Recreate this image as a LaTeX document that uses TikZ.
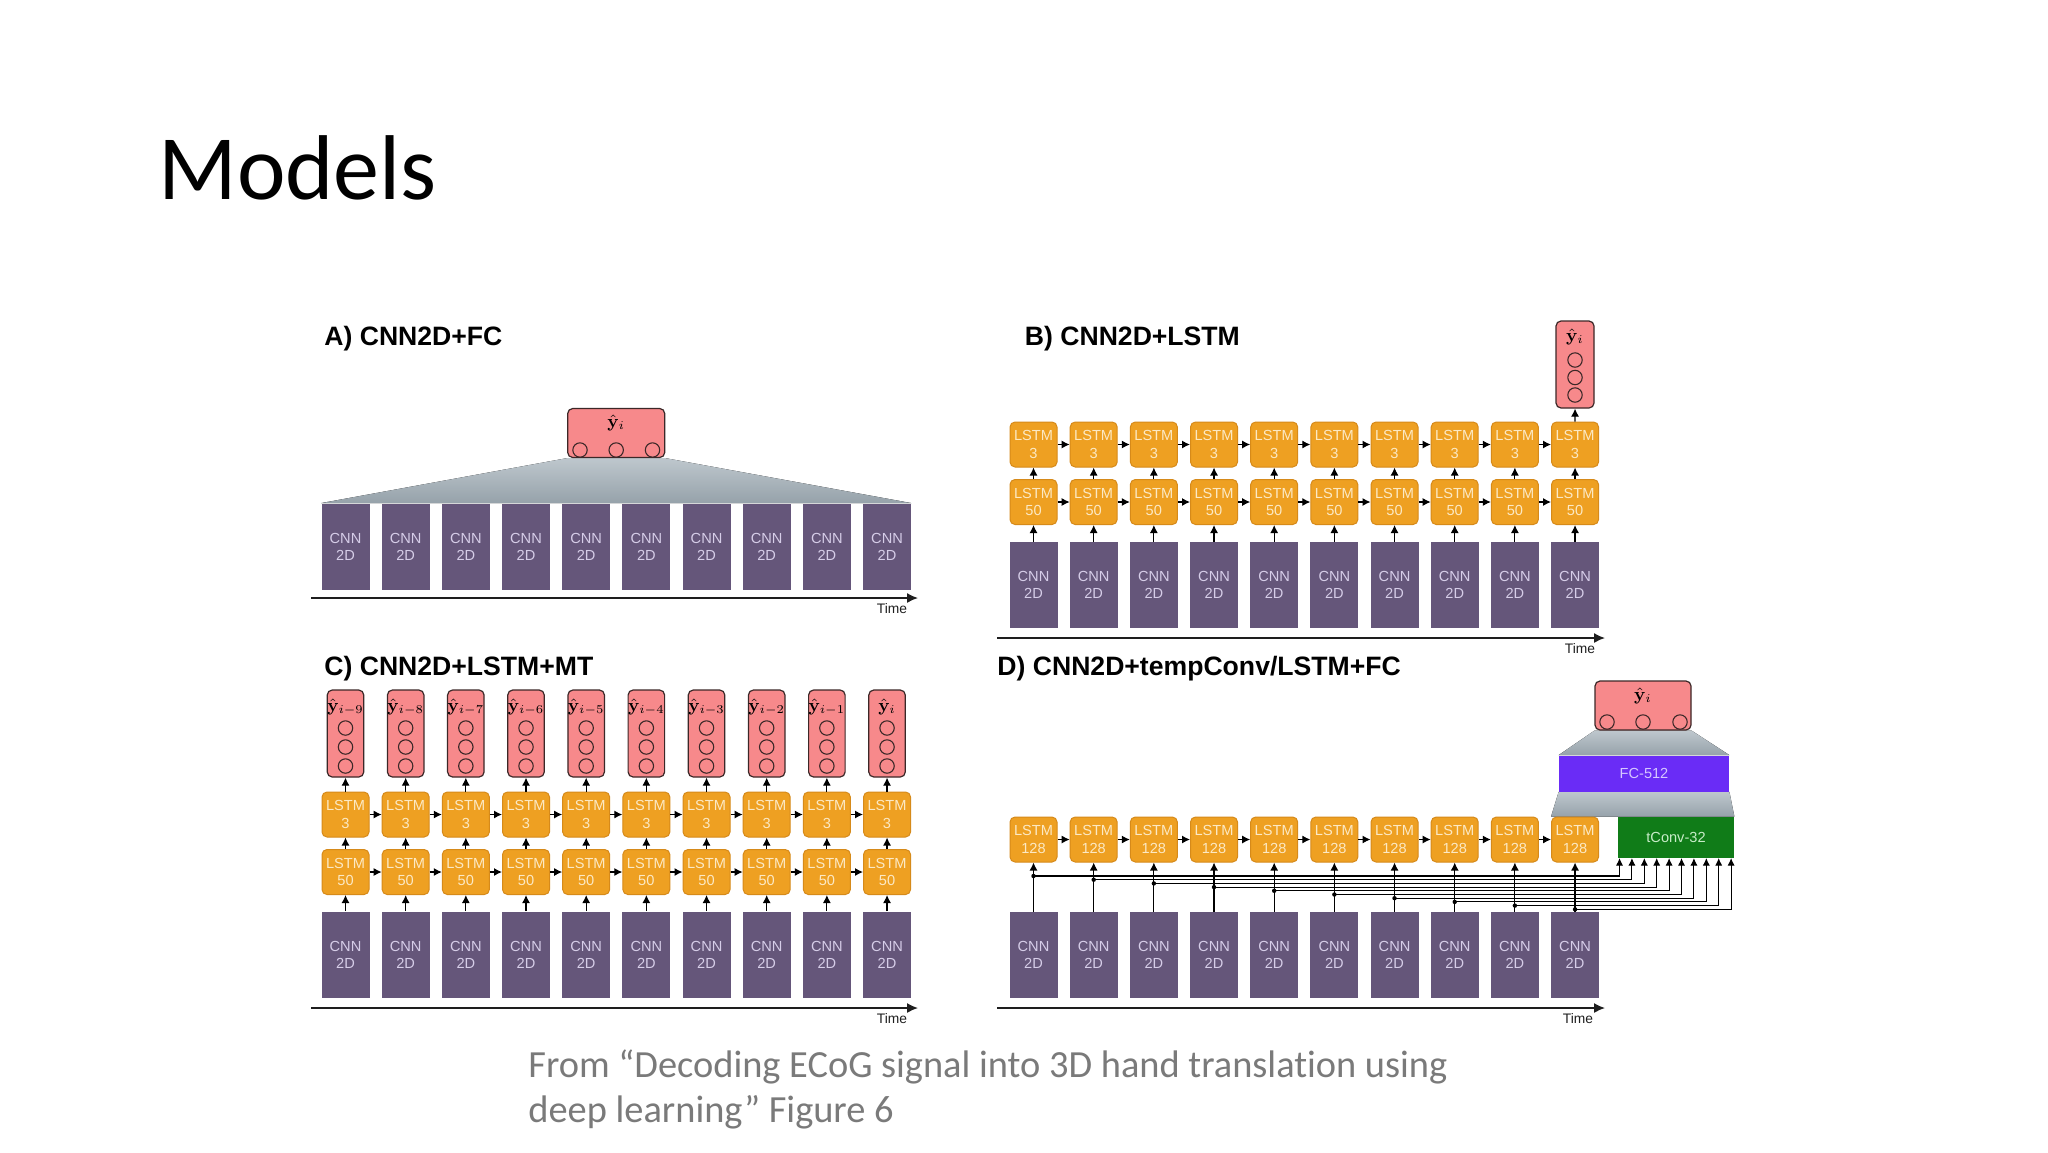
\documentclass[tikz,border=0pt]{standalone}
\usepackage[no-math]{fontspec}
\setmainfont{Liberation Sans}
\newfontfamily\calib[Ligatures=NoCommon]{Carlito}
\usetikzlibrary{arrows.meta}
\pgfdeclarelayer{bg}
\pgfsetlayers{bg,main}
\definecolor{cnnfill}{RGB}{101,86,122}
\definecolor{cnntext}{RGB}{214,205,232}
\definecolor{lstmfill}{RGB}{238,160,34}
\definecolor{lstmdraw}{RGB}{214,138,26}
\definecolor{lstmtext}{RGB}{252,233,196}
\definecolor{outfill}{RGB}{247,137,139}
\definecolor{outdraw}{RGB}{60,40,40}
\definecolor{fantop}{RGB}{190,199,205}
\definecolor{fanbot}{RGB}{150,162,170}
\definecolor{fcfill}{RGB}{106,44,246}
\definecolor{fctext}{RGB}{214,200,255}
\definecolor{tcfill}{RGB}{16,124,24}
\definecolor{tctext}{RGB}{200,236,200}
\definecolor{captiongray}{RGB}{122,122,122}
\definecolor{axisblack}{RGB}{30,30,30}
\begin{document}
\begin{tikzpicture}[x=0.5pt,y=-0.5pt,
  cnn/.style={rectangle, fill=cnnfill, minimum width=24pt, minimum height=43pt, inner sep=0pt, text=cnntext, font=\fontsize{7.3}{8.6}\selectfont, align=center},
  lstm/.style={rectangle, rounded corners=2.5pt, fill=lstmfill, draw=lstmdraw, line width=0.5pt, minimum width=23.5pt, minimum height=22.5pt, inner sep=0pt, text=lstmtext, font=\fontsize{7.3}{8.6}\selectfont, align=center},
  outbox/.style={rectangle, rounded corners=2.5pt, fill=outfill, draw=outdraw, line width=0.6pt, inner sep=0pt},
  neuron/.style={circle, draw=outdraw, line width=0.55pt, minimum size=7.2pt, inner sep=0pt},
  lab/.style={inner sep=0pt, font=\fontsize{9}{10}\selectfont},
  arr/.style={-{Latex[length=4pt,width=4pt]}, line width=0.6pt, draw=black},
  wire/.style={-{Latex[length=3.8pt,width=3.6pt]}, line width=0.55pt, draw=black},
  timeax/.style={-{Latex[length=5.5pt,width=5pt]}, line width=0.75pt, draw=axisblack},
  panel/.style={font=\bfseries\fontsize{13.3}{16}\selectfont, anchor=base west, inner sep=0pt},
  timelab/.style={font=\fontsize{6.9}{8}\selectfont, text=axisblack, inner sep=0pt},
  fan/.style={top color=fantop, bottom color=fanbot, draw=none},
  slidetitle/.style={font=\calib\fontsize{46}{50}\selectfont, anchor=base west, inner sep=0pt},
  caption/.style={font=\calib\fontsize{19.2}{22.5}\selectfont, text=captiongray, anchor=base west, inner sep=0pt},
  fcbox/.style={rectangle, fill=fcfill, minimum width=85pt, minimum height=18pt, inner sep=0pt, text=fctext, font=\fontsize{7.3}{8.6}\selectfont},
  tcbox/.style={rectangle, fill=tcfill, minimum width=58pt, minimum height=20.5pt, inner sep=0pt, text=tctext, font=\fontsize{7.3}{8.6}\selectfont}
]
\useasboundingbox (0,0) rectangle (2048,1152);
\begin{pgfonlayer}{bg}
\fill[white] (0,0) rectangle (2048,1152);
\end{pgfonlayer}

% slide title
\node[slidetitle] (title) at (158,199) {Models};

% ---------------- Panel A ----------------
\node[panel] (tA) at (324,345) {A) CNN2D+FC};
\foreach \k in {1,...,10}{
  \pgfmathsetmacro{\cx}{345.5+60.17*(\k-1)}
  \node[cnn] (A\k) at (\cx,546.5) {CNN\\2D};
}
\node[outbox, minimum width=48.5pt, minimum height=24.5pt] (oA) at (616.2,433) {};
\node[lab] (oAl) at (616.2,423) {$\hat{\mathbf{y}}_i$};
\foreach \xx [count=\n] in {580,616.2,652.5}
  \node[neuron] (oAn\n) at (\xx,450) {};
\begin{pgfonlayer}{bg}
\fill[fan] (A1.north west) -- (oA.south west) -- (oA.south east) -- (A10.north east) -- cycle;
\end{pgfonlayer}
\coordinate (TA0) at (311,598);
\coordinate (TA1) at (918,598);
\draw[timeax] (TA0) -- (TA1);
\node[timelab] (TAl) at (892,608.5) {Time};

% ---------------- Panel B ----------------
\node[panel] (tB) at (1024.5,345) {B) CNN2D+LSTM};
\foreach \k in {1,...,10}{
  \pgfmathsetmacro{\cx}{1033.5+60.17*(\k-1)}
  \node[cnn] (B\k) at (\cx,585) {CNN\\2D};
  \node[lstm] (Bm\k) at (\cx,502) {LSTM\\50};
  \node[lstm] (Bt\k) at (\cx,444.5) {LSTM\\3};
  \draw[arr] (B\k) -- (Bm\k);
  \draw[arr] (Bm\k) -- (Bt\k);
}
\foreach \k [evaluate=\k as \j using int(\k+1)] in {1,...,9}{
  \draw[arr] (Bm\k) -- (Bm\j);
  \draw[arr] (Bt\k) -- (Bt\j);
}
\node[outbox, minimum width=19pt, minimum height=43.5pt] (oB) at (1575,364.5) {};
\node[lab] (oBl) at (1575,337) {$\hat{\mathbf{y}}_i$};
\foreach \yy [count=\n] in {360,377.5,395}
  \node[neuron] (oBn\n) at (1575,\yy) {};
\draw[arr] (Bt10) -- (oB);
\coordinate (TB0) at (997,638);
\coordinate (TB1) at (1605,638);
\draw[timeax] (TB0) -- (TB1);
\node[timelab] (TBl) at (1580,648.5) {Time};

% ---------------- Panel C ----------------
\node[panel] (tC) at (324,675) {C) CNN2D+LSTM+MT};
\foreach \k in {1,...,10}{
  \pgfmathsetmacro{\cx}{345.5+60.17*(\k-1)}
  \pgfmathtruncatemacro{\m}{10-\k}
  \node[cnn] (C\k) at (\cx,954.5) {CNN\\2D};
  \node[lstm] (Cm\k) at (\cx,872) {LSTM\\50};
  \node[lstm] (Ct\k) at (\cx,814.5) {LSTM\\3};
  \node[outbox, minimum width=18.25pt, minimum height=43.5pt] (oC\k) at (\cx,733.5) {};
  \node[lab] (oCl\k) at (\cx,707) {\ifnum\m>0 $\hat{\mathbf{y}}_{i-\m}$\else $\hat{\mathbf{y}}_{i}$\fi};
  \node[neuron] (oCa\k) at (\cx,728) {};
  \node[neuron] (oCb\k) at (\cx,747) {};
  \node[neuron] (oCc\k) at (\cx,766) {};
  \draw[arr] (C\k) -- (Cm\k);
  \draw[arr] (Cm\k) -- (Ct\k);
  \draw[arr] (Ct\k) -- (oC\k);
}
\foreach \k [evaluate=\k as \j using int(\k+1)] in {1,...,9}{
  \draw[arr] (Cm\k) -- (Cm\j);
  \draw[arr] (Ct\k) -- (Ct\j);
}
\coordinate (TC0) at (311,1008);
\coordinate (TC1) at (918,1008);
\draw[timeax] (TC0) -- (TC1);
\node[timelab] (TCl) at (892,1018.5) {Time};

% ---------------- Panel D ----------------
\node[panel] (tD) at (997,675) {D) CNN2D+tempConv/LSTM+FC};
\node[tcbox] (TConv) at (1676,837.5) {tConv-32};
\node[fcbox] (FC) at (1644,773.5) {FC-512};
\node[outbox, minimum width=48pt, minimum height=24.5pt] (oD) at (1643,705.5) {};
\node[lab] (oDl) at (1643,696) {$\hat{\mathbf{y}}_i$};
\foreach \xx [count=\n] in {1607,1643,1680}
  \node[neuron] (oDn\n) at (\xx,722) {};
\foreach \k in {1,...,10}{
  \pgfmathsetmacro{\cx}{1033.5+60.17*(\k-1)}
  \pgfmathsetmacro{\jy}{876+3.7*(\k-1)}
  \pgfmathsetmacro{\tx}{1619.5+12.4*(\k-1)}
  \node[cnn] (D\k) at (\cx,955) {CNN\\2D};
  \node[lstm] (Dl\k) at (\cx,839.5) {LSTM\\128};
  \draw[arr] (D\k) -- (Dl\k);
  \coordinate (J\k) at (\cx,\jy);
  \coordinate (T\k) at (\tx,858);
  \draw[wire] (J\k) -| (T\k);
  \fill (J\k) circle[radius=1.1pt];
}
\foreach \k [evaluate=\k as \j using int(\k+1)] in {1,...,9}{
  \draw[arr] (Dl\k) -- (Dl\j);
}
\begin{pgfonlayer}{bg}
\fill[fan] (oD.south west) -- (oD.south east) -- (FC.north east) -- (FC.north west) -- cycle;
\fill[fan] (FC.south west) -- (FC.south east) -- (TConv.north east) -- (Dl10.north west) -- cycle;
\end{pgfonlayer}
\coordinate (TD0) at (997,1008);
\coordinate (TD1) at (1605,1008);
\draw[timeax] (TD0) -- (TD1);
\node[timelab] (TDl) at (1578,1018.5) {Time};

% caption
\node[caption] (cap1) at (528,1077) {From “Decoding ECoG signal into 3D hand translation using};
\node[caption] (cap2) at (528,1122) {deep learning” Figure 6};
\end{tikzpicture}
\end{document}
